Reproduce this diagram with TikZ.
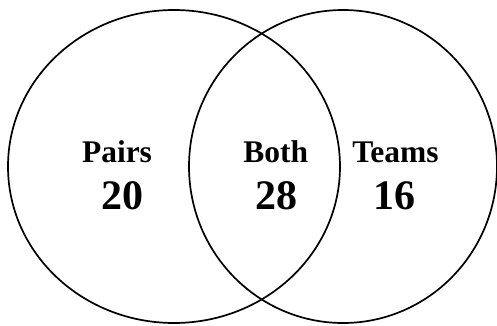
\documentclass[tikz,border=0pt]{standalone}
\usepackage{fontspec}
\setmainfont{Liberation Serif}
\begin{document}
\begin{tikzpicture}[x=1pt,y=1pt,
  setline/.style={line width=1.7pt},
  lbl/.style={anchor=base,inner sep=0pt,font=\bfseries\fontsize{31.5}{36}\selectfont},
  num/.style={anchor=base,inner sep=0pt,font=\bfseries\fontsize{42}{48}\selectfont}]
\useasboundingbox (0,0) rectangle (497,325);
\draw[setline] (174,158.5) ellipse [x radius=166, y radius=156.5];
\draw[setline] (343,158.5) ellipse [x radius=154, y radius=156.5];
\node[lbl] (pairs) at (117,163) {Pairs};
\node[num] (n20) at (122.5,116) {20};
\node[lbl] (both) at (275.7,163) {Both};
\node[num] (n28) at (276.5,116) {28};
\node[lbl] (teams) at (395.5,163) {Teams};
\node[num] (n16) at (394,116) {16};
\end{tikzpicture}
\end{document}
